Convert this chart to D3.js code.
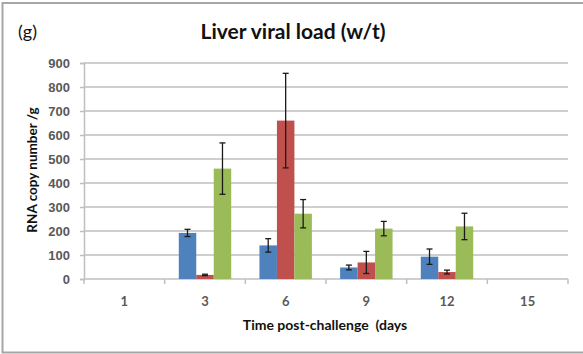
<!DOCTYPE html>
<html>
<head>
<meta charset="utf-8">
<script src="https://cdn.jsdelivr.net/npm/d3@7"></script>
<style>
  html, body { margin: 0; padding: 0; background: #fff; }
  svg { display: block; font-family: Lato, "Open Sans", "DejaVu Sans", sans-serif; }
  text { white-space: pre; }
</style>
</head>
<body>
<svg id="chart" width="583" height="354"></svg>
<script>
// Days post-challenge and the three series (mean, error)
const days = ["1", "3", "6", "9", "12", "15"];
const seriesNames = ["s1", "s2", "s3"];
const seriesColors = ["#4f81bd", "#c0504d", "#9bbb59"];
const s1Values = [null, 192, 140, 48, 93, null];
const s1Errors = [null, 15, 28, 10, 32, null];
const s2Values = [null, 17, 660, 69, 29, null];
const s2Errors = [null, 3, 197, 46, 8, null];
const s3Values = [null, 460, 272, 210, 219, null];
const s3Errors = [null, 107, 59, 30, 55, null];
const yTicks = [0, 100, 200, 300, 400, 500, 600, 700, 800, 900];

const values = [s1Values, s2Values, s3Values];
const errors = [s1Errors, s2Errors, s3Errors];

const svg = d3.select("#chart");
const W = 583, H = 354;
const m = { left: 84, right: 15, top: 63, bottom: 75 };

// outer frame
svg.append("path")
  .attr("d", `M${W},3 H2.5 V352.5 H${W}`)
  .attr("fill", "none").attr("stroke", "#a6a6a6").attr("stroke-width", 2);

const x = d3.scaleBand().domain(days).range([m.left, W - m.right]).padding(0);
const inner = d3.scaleBand().domain(seriesNames)
  .range([0, x.bandwidth() * 0.65]);
const y = d3.scaleLinear().domain([0, 900]).range([H - m.bottom, m.top]);

// gridlines
svg.append("g").selectAll("line").data(yTicks.slice(1)).join("line")
  .attr("x1", m.left).attr("x2", W - m.right)
  .attr("y1", d => y(d)).attr("y2", d => y(d))
  .attr("stroke", "#bfbfbf").attr("stroke-width", 1.5);

// y axis
const yAxis = svg.append("g").attr("transform", `translate(${m.left},0)`)
  .call(d3.axisLeft(y).tickValues(yTicks).tickSize(4).tickPadding(10));
yAxis.select(".domain").attr("stroke", "#bfbfbf").attr("stroke-width", 1.5);
yAxis.selectAll(".tick line").attr("stroke", "#bfbfbf").attr("stroke-width", 1.5);
yAxis.selectAll("text").attr("fill", "#595959").attr("font-size", 13)
  .attr("font-weight", "bold");

// x axis: ticks at category boundaries
const xBase = y(0);
svg.append("line").attr("x1", m.left).attr("x2", W - m.right)
  .attr("y1", xBase).attr("y2", xBase)
  .attr("stroke", "#bfbfbf").attr("stroke-width", 1.5);
const bounds = days.map(d => x(d)).concat([x(days[days.length - 1]) + x.bandwidth()]);
svg.append("g").selectAll("line").data(bounds).join("line")
  .attr("x1", d => d).attr("x2", d => d)
  .attr("y1", xBase).attr("y2", xBase + 5)
  .attr("stroke", "#bfbfbf").attr("stroke-width", 1.5);
svg.append("g").selectAll("text").data(days).join("text")
  .attr("x", d => x(d) + x.bandwidth() / 2)
  .attr("y", xBase + 27)
  .attr("text-anchor", "middle")
  .attr("fill", "#595959").attr("font-size", 13).attr("font-weight", "bold")
  .text(d => d);

// bars and error bars
const groupOffset = (x.bandwidth() - inner.range()[1]) / 2;
const items = [];
days.forEach((d, i) => {
  seriesNames.forEach((s, k) => {
    if (values[k][i] != null) {
      items.push({ day: d, s, k, v: values[k][i], e: errors[k][i] });
    }
  });
});

svg.append("g").selectAll("rect").data(items).join("rect")
  .attr("x", d => x(d.day) + groupOffset + inner(d.s))
  .attr("width", inner.bandwidth())
  .attr("y", d => y(d.v))
  .attr("height", d => y(0) - y(d.v))
  .attr("fill", d => seriesColors[d.k]);

const eb = svg.append("g").attr("stroke", "#1a1a1a").attr("stroke-width", 1.3);
items.forEach(d => {
  const cx = x(d.day) + groupOffset + inner(d.s) + inner.bandwidth() / 2;
  const yt = y(d.v + d.e), yb = y(Math.max(0, d.v - d.e));
  eb.append("line").attr("x1", cx).attr("x2", cx).attr("y1", yt).attr("y2", yb);
  eb.append("line").attr("x1", cx - 3).attr("x2", cx + 3).attr("y1", yt).attr("y2", yt);
  eb.append("line").attr("x1", cx - 3).attr("x2", cx + 3).attr("y1", yb).attr("y2", yb);
});

// titles
svg.append("text").attr("x", 18).attr("y", 38)
  .attr("font-size", 18).attr("fill", "#111").text("(g)");
svg.append("text").attr("x", 293).attr("y", 39)
  .attr("text-anchor", "middle").attr("font-size", 21).attr("font-weight", "bold")
  .attr("fill", "#111").text("Liver viral load (w/t)");
svg.append("text").attr("x", 325).attr("y", 330)
  .attr("text-anchor", "middle").attr("font-size", 14).attr("font-weight", "bold")
  .attr("fill", "#111").text("Time post-challenge  (days");
svg.append("text")
  .attr("transform", "translate(37,170) rotate(-90)")
  .attr("text-anchor", "middle").attr("font-size", 13.5).attr("font-weight", "bold")
  .attr("fill", "#111").text("RNA copy number /g");
</script>
</body>
</html>
